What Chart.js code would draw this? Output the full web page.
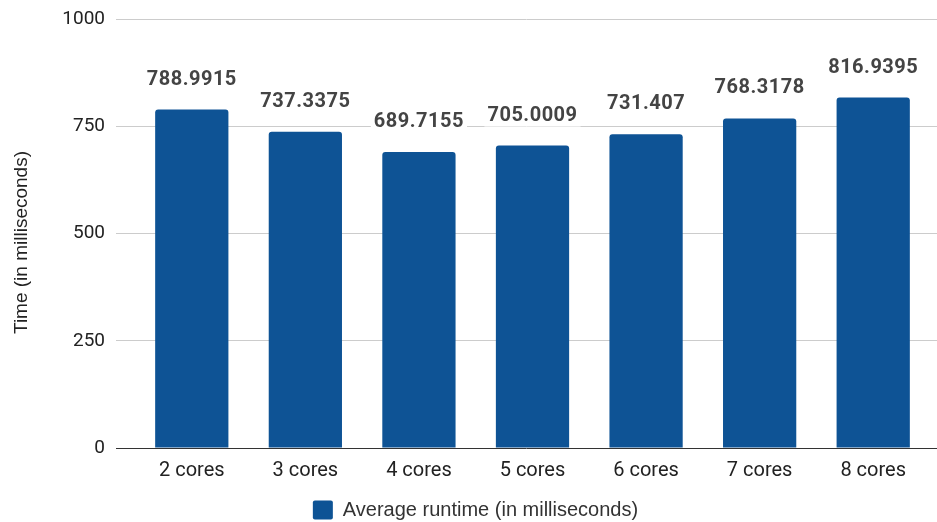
<!DOCTYPE html>
<html>
<head>
<meta charset="utf-8">
<title>Average runtime by core count</title>
<script src="https://cdn.jsdelivr.net/npm/chart.js@4.4.0/dist/chart.umd.min.js"></script>
<style>
  html, body { margin: 0; padding: 0; background: #fff; }
  #wrap { width: 937px; height: 522px; position: relative; }
</style>
</head>
<body>
<div id="wrap"><canvas id="runtimeChart"></canvas></div>
<script>
const coreLabels = ['2 cores', '3 cores', '4 cores', '5 cores', '6 cores', '7 cores', '8 cores'];
const avgRuntime = [788.9915, 737.3375, 689.7155, 705.0009, 731.407, 768.3178, 816.9395];
const yTicks = [0, 250, 500, 750, 1000];

const BAR_BLUE = '#0e5395';

// value printed above each bar, on a white patch so grid lines stop around it
const valueLabels = {
  id: 'valueLabels',
  afterDatasetsDraw(chart) {
    const ctx = chart.ctx;
    const meta = chart.getDatasetMeta(0);
    ctx.save();
    ctx.font = 'bold 20px Roboto';
    ctx.letterSpacing = '0.5px';
    ctx.textAlign = 'center';
    ctx.textBaseline = 'middle';
    meta.data.forEach((bar, i) => {
      const text = String(avgRuntime[i]);
      const w = ctx.measureText(text).width;
      const y = bar.y - 30;
      ctx.fillStyle = '#fff';
      ctx.fillRect(bar.x - w / 2 - 3, y - 11, w + 6, 22);
      ctx.fillStyle = '#444';
      ctx.fillText(text, bar.x, y);
    });
    ctx.restore();
  }
};

// grid lines run the full width, but the categories sit a little inside them;
// legend is nudged right and down, the y title a little lower
const nudgeBoxes = {
  id: 'nudgeBoxes',
  afterLayout(chart) {
    const x = chart.scales.x;
    x.left = chart.chartArea.left + 19;
    x.right = chart.chartArea.right - 7;
    x.width = x.right - x.left;
    x.configure();

    const legend = chart.legend;
    legend.left += 7;
    legend.right += 7;
    legend.top += 8;
    legend.bottom += 8;

    const y = chart.scales.y;
    if (!y._titleShifted) {
      const drawTitle = y.drawTitle.bind(y);
      y.drawTitle = function () {
        chart.ctx.save();
        chart.ctx.translate(0, 9);
        drawTitle();
        chart.ctx.restore();
      };
      y._titleShifted = true;
    }
  }
};

new Chart(document.getElementById('runtimeChart'), {
  type: 'bar',
  data: {
    labels: coreLabels,
    datasets: [{
      label: 'Average runtime (in milliseconds)',
      data: avgRuntime,
      backgroundColor: BAR_BLUE,
      borderRadius: 3,
      borderSkipped: 'bottom',
      categoryPercentage: 1,
      barPercentage: 0.645
    }]
  },
  options: {
    responsive: true,
    maintainAspectRatio: false,
    animation: false,
    layout: { padding: { top: 19, right: 0, bottom: 0, left: 0 } },
    plugins: {
      tooltip: { enabled: false },
      legend: {
        position: 'bottom',
        labels: {
          boxWidth: 20,
          boxHeight: 19,
          useBorderRadius: true,
          borderRadius: 2,
          padding: 10,
          color: '#333',
          font: { family: 'Liberation Sans', size: 20 }
        }
      }
    },
    scales: {
      x: {
        grid: { display: false },
        border: { display: false },
        ticks: {
          color: '#222',
          padding: 3,
          font: { family: 'Roboto', size: 20 }
        },
        afterFit(scale) { scale.height = 34; }
      },
      y: {
        min: yTicks[0],
        max: yTicks[yTicks.length - 1],
        afterBuildTicks(scale) { scale.ticks = yTicks.map(v => ({ value: v })); },
        grid: {
          drawTicks: true,
          tickLength: 11,
          tickColor: 'rgba(0,0,0,0)',
          color: ctx => (ctx.tick && ctx.tick.value === 0 ? '#333' : '#ccc'),
          lineWidth: 1
        },
        border: { display: false },
        ticks: {
          color: '#222',
          padding: 0,
          font: { family: 'Roboto', size: 19 },
          callback: v => String(v)
        },
        title: {
          display: true,
          text: 'Time (in milliseconds)',
          color: '#222',
          padding: { top: 10, bottom: 0 },
          font: { family: 'Liberation Sans', size: 19 }
        },
        afterFit(scale) { scale.width = 116; }
      }
    }
  },
  plugins: [valueLabels, nudgeBoxes]
});
</script>
</body>
</html>
